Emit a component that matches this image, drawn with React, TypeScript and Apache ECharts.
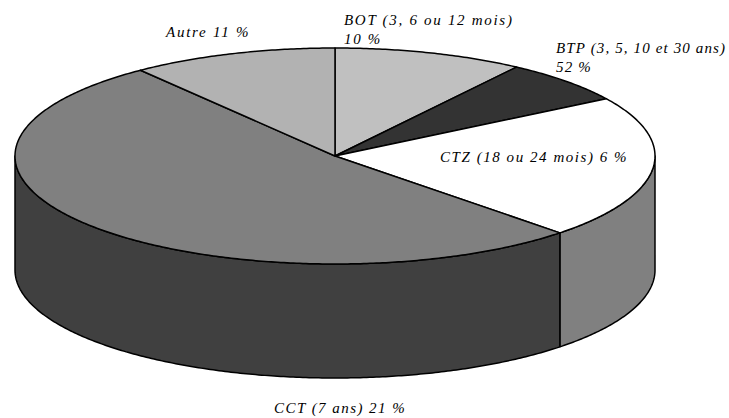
import React, { useEffect, useRef } from "react";
import * as echarts from "echarts";

const categories = ["BOT", "BTP", "CTZ", "CCT", "Autre"];
const sliceShares = [9.6, 6.5, 21.5, 52, 10.4];
const topColors = ["#c0c0c0", "#333333", "#ffffff", "#808080", "#b2b2b2"];
const sideColors = ["#606060", "#1a1a1a", "#808080", "#404040", "#595959"];
const sliceLabels = [
  "BOT (3, 6 ou 12 mois)\n10 %",
  "BTP (3, 5, 10 et 30 ans)\n52 %",
  "CTZ (18 ou 24 mois) 6 %",
  "CCT (7 ans) 21 %",
  "Autre 11 %",
];
const labelSpacing = [1.7, 1.13, 1.55, 1.45, 1.75];

const CX = 335;
const CY = 156;
const RX = 320;
const RY = 108;
const DEPTH = 114;
const total = sliceShares.reduce((a, b) => a + b, 0);

// angle in radians, clockwise from the top of the pie
const pt = (a: number, dy = 0): number[] => [
  CX + RX * Math.sin(a),
  CY - RY * Math.cos(a) + dy,
];
const arc = (a0: number, a1: number, dy = 0): number[][] => {
  const n = Math.max(2, Math.ceil(Math.abs(a1 - a0) / 0.01));
  const out: number[][] = [];
  for (let i = 0; i <= n; i++) out.push(pt(a0 + ((a1 - a0) * i) / n, dy));
  return out;
};

const renderItem = (params: any, api: any) => {
  const i = params.dataIndex;
  let before = 0;
  for (let k = 0; k < i; k++) before += sliceShares[k];
  const a0 = (before / total) * Math.PI * 2;
  const a1 = a0 + (api.value(0) / total) * Math.PI * 2;
  const children: any[] = [];
  const s0 = Math.max(a0, Math.PI / 2);
  const s1 = Math.min(a1, (Math.PI * 3) / 2);
  const line = { stroke: "#000", lineWidth: 1.5, lineJoin: "round" };
  if (s1 > s0) {
    children.push({
      type: "polygon",
      shape: { points: [...arc(s0, s1), ...arc(s1, s0, DEPTH)] },
      style: { fill: sideColors[i], ...line },
    });
  }
  children.push({
    type: "polygon",
    shape: { points: [[CX, CY], ...arc(a0, a1)] },
    style: { fill: topColors[i], ...line },
  });
  return { type: "group", children };
};

const textStyle = {
  fontFamily: "Liberation Serif",
  fontStyle: "italic",
  fontSize: 15,
  lineHeight: 18.5,
  fill: "#000",
};
const label = (i: number, x: number, y: number) => ({
  type: "text",
  x,
  y,
  z: 10,
  style: { ...textStyle, text: sliceLabels[i], align: "left", verticalAlign: "top" },
});

export default function App() {
  const ref = useRef<HTMLDivElement>(null);
  useEffect(() => {
    const chart = echarts.init(ref.current!, undefined, { renderer: "svg" });
    chart.setOption({
      animation: false,
      backgroundColor: "#fff",
      series: [
        {
          type: "custom",
          name: "Parts",
          coordinateSystem: "none",
          silent: true,
          renderItem,
          data: sliceShares.map((v, i) => ({ name: categories[i], value: v })),
        },
      ],
      graphic: [
        label(0, 344, 11),
        label(1, 556, 39),
        label(2, 440, 148),
        label(3, 274, 399),
        label(4, 166, 23),
      ],
    });
    // ECharts has no letter-spacing option: apply the spacing to the SVG texts.
    ref.current!.querySelectorAll("text").forEach((el) => {
      const t = el.textContent || "";
      const i = sliceLabels.findIndex((s) => s.split("\n").includes(t));
      if (i >= 0) (el as SVGTextElement).style.letterSpacing = `${labelSpacing[i]}px`;
    });
    return () => chart.dispose();
  }, []);
  return (
    <div
      ref={ref}
      style={{ position: "fixed", left: 0, top: 0, width: 729, height: 418 }}
    />
  );
}
